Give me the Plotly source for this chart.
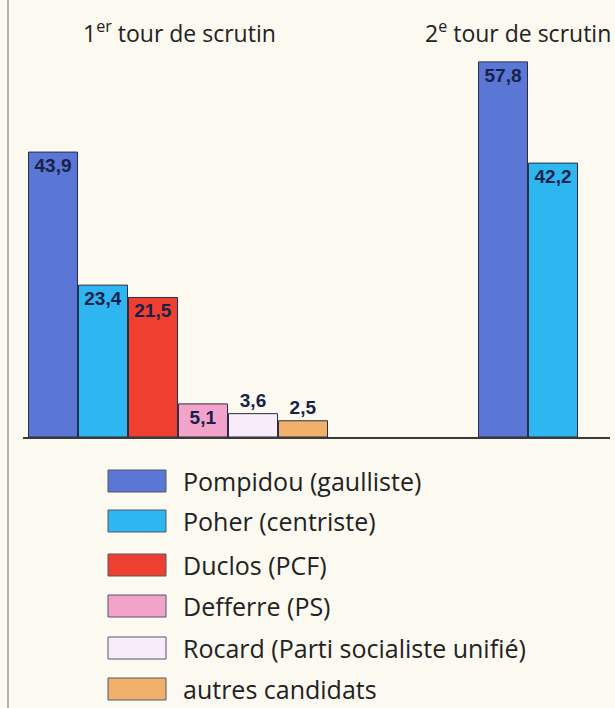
import plotly.graph_objects as go

# ---- data ----
candidates = ["Pompidou (gaulliste)", "Poher (centriste)", "Duclos (PCF)",
              "Defferre (PS)", "Rocard (Parti socialiste unifié)", "autres candidats"]
tour1_values = [43.9, 23.4, 21.5, 5.1, 3.6, 2.5]
tour2_candidates = ["Pompidou (gaulliste)", "Poher (centriste)"]
tour2_values = [57.8, 42.2]
round_titles = ["1<sup>er</sup> tour de scrutin", "2<sup>e</sup> tour de scrutin"]

# ---- styles ----
colors = ["#5b77d5", "#2db6ef", "#ef3f30", "#f3a3c9", "#f8ebfa", "#f1b16c"]
label_pos = ["inside", "inside", "inside", "inside", "outside", "outside"]
BG = "#fbf9f0"
TEXT = "#222222"
LABEL = "#17214a"

W, H = 615, 708
L, R, T, B = 23, 5, 30, 271
PW, PH = W - L - R, H - T - B
BASE_Y = T + PH
GAP2 = 9  # slot offset of the second round

def fmt(v):
    return f"{v:.1f}".replace(".", ",")

fig = go.Figure()
for i, (name, v) in enumerate(zip(candidates, tour1_values)):
    xs, ys = [i], [v]
    if name in tour2_candidates:
        j = tour2_candidates.index(name)
        xs.append(GAP2 + j)
        ys.append(tour2_values[j])
    pos = label_pos[i]
    fig.add_trace(go.Bar(
        x=xs, y=ys, name=name, width=0.98,
        marker=dict(color=colors[i], line=dict(color="#2a2d44", width=1)),
        text=[fmt(y) for y in ys],
        textposition=[pos] + ["inside"] * (len(ys) - 1),
        insidetextanchor="end",
        constraintext="none",
        textfont=dict(family="Liberation Sans, Arial, sans-serif", size=19,
                      color=LABEL, weight="bold"),
        cliponaxis=False,
        showlegend=False,
    ))

XMIN = -0.6
XMAX = XMIN + PW / 50.0
YMAX = PH / 6.49

fig.update_layout(
    width=W, height=H,
    margin=dict(l=L, r=R, t=T, b=B),
    paper_bgcolor=BG, plot_bgcolor=BG,
    barmode="overlay",
    xaxis=dict(range=[XMIN, XMAX], showgrid=False, zeroline=False, showticklabels=False,
               ticks="", showline=True, linecolor="#3a3a3a", linewidth=1.5, fixedrange=True),
    yaxis=dict(range=[0, YMAX], showgrid=False, zeroline=False, showticklabels=False,
               ticks="", showline=False, fixedrange=True),
    font=dict(family="Open Sans, Noto Sans, sans-serif", color=TEXT),
)

def px(x):
    return (x - L) / PW

def py(y):
    return (BASE_Y - y) / PH

# round titles
fig.add_annotation(text=round_titles[0], x=px(179), y=py(32), xref="paper", yref="paper",
                   showarrow=False, font=dict(size=23, color=TEXT), xanchor="center", yanchor="middle")
fig.add_annotation(text=round_titles[1], x=px(613), y=py(32), xref="paper", yref="paper",
                   showarrow=False, font=dict(size=23, color=TEXT), xanchor="right", yanchor="middle")

# manual legend with large swatches
row_centers = [481, 521, 565, 606, 648, 689]
for name, c, yc in zip(candidates, colors, row_centers):
    fig.add_shape(type="rect", xref="paper", yref="paper",
                  x0=px(108), x1=px(166), y0=py(yc - 11), y1=py(yc + 11),
                  fillcolor=c, line=dict(color="#55566a", width=1))
    fig.add_annotation(text=name, x=px(181), y=py(yc), xref="paper", yref="paper",
                       showarrow=False, xanchor="left", yanchor="middle",
                       font=dict(size=25, color=TEXT))

# page border line on the left
fig.add_shape(type="line", xref="paper", yref="paper", x0=px(8), x1=px(8), y0=py(0), y1=py(708),
              line=dict(color="#9a9a9a", width=1.5))

fig.write_html("out.html", config={"displayModeBar": False},
               post_script="document.body.style.margin='0';document.body.style.background='%s';" % BG)
